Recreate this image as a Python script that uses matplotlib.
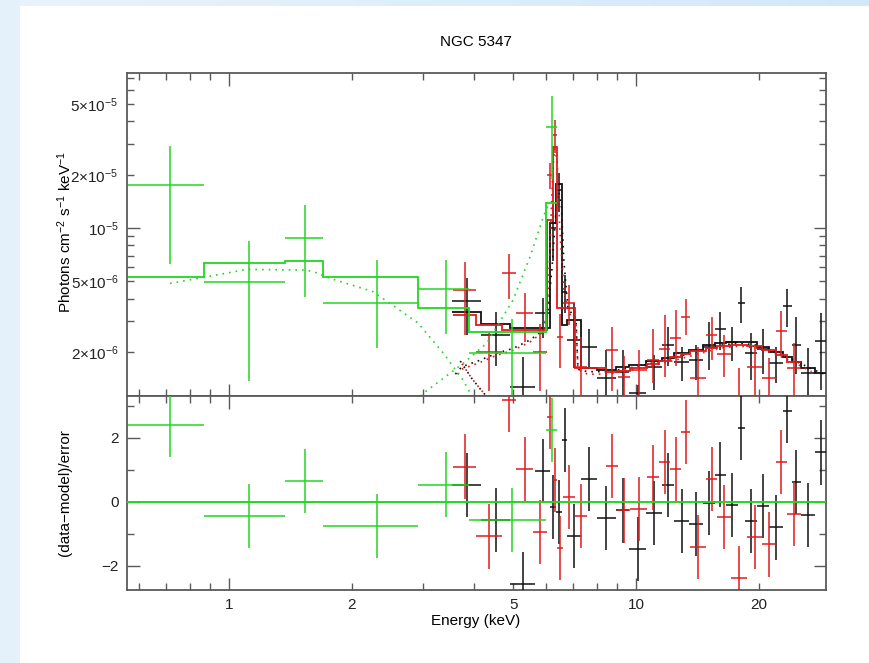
import numpy as np
import matplotlib
matplotlib.use('Agg')
import matplotlib.pyplot as plt
from matplotlib.patches import Rectangle

plt.rcParams['font.family'] = ['Liberation Sans', 'DejaVu Sans']
plt.rcParams['mathtext.fontset'] = 'custom'
plt.rcParams['mathtext.rm'] = 'Liberation Sans'
plt.rcParams['mathtext.it'] = 'Liberation Sans:italic'
plt.rcParams['font.size'] = 11

# ---- green data set (low energy) ----
g_lo = [0.565, 0.867, 1.373, 1.705, 2.917, 3.894, 6.01]
g_hi = [0.867, 1.373, 1.705, 2.917, 3.894, 6.01, 6.41]
g_flux = [1.76e-5, 4.96e-6, 8.82e-6, 3.80e-6, 4.53e-6, 1.97e-6, 3.72e-5]
g_top = [2.91e-5, 8.48e-6, 1.348e-5, 6.60e-6, 6.60e-6, 3.07e-6, 5.54e-5]
g_bot = [6.25e-6, 1.375e-6, 4.1e-6, 2.11e-6, 2.53e-6, 0.87e-6, 1.905e-5]
g_model = [5.32e-6, 6.37e-6, 6.49e-6, 5.32e-6, 3.53e-6, 2.61e-6, 1.38e-5]
g_resid = [2.41, -0.44, 0.65, -0.75, 0.54, -0.58, 2.23]

# ---- black data set ----
b_edges = [3.526, 4.161, 4.902, 5.646, 6.147, 6.36, 6.58, 6.78, 7.314, 8.008,
           8.917, 9.627, 10.56, 11.56, 12.42, 13.50, 14.61, 15.61, 16.64,
           17.78, 18.53, 19.87, 21.26, 22.94, 24.13, 25.39, 27.58, 29.30]
b_flux = [3.88e-6, 2.50e-6, 1.266e-6, 3.33e-6, 1.0e-5, 1.64e-5, 4.38e-6, 2.34e-6,
          2.14e-6, 1.42e-6, 1.55e-6, 1.18e-6, 1.64e-6, 2.19e-6, 1.75e-6, 1.80e-6,
          2.14e-6, 2.69e-6, 2.29e-6, 3.77e-6, 1.98e-6, 2.08e-6, 1.73e-6, 3.64e-6,
          2.19e-6, 1.52e-6, 2.31e-6]
b_top = [5.21e-6, 3.38e-6, 1.88e-6, 4.02e-6, 1.35e-5, 2.04e-5, 5.44e-6, 3.77e-6,
         2.69e-6, 2.05e-6, 2.05e-6, 1.30e-6, 1.93e-6, 2.78e-6, 2.13e-6, 2.19e-6,
         2.97e-6, 3.38e-6, 2.78e-6, 4.67e-6, 2.55e-6, 2.70e-6, 2.14e-6, 4.51e-6,
         3.14e-6, 2.10e-6, 3.31e-6]
b_bot = [2.50e-6, 1.66e-6, 0.65e-6, 2.39e-6, 6.5e-6, 1.24e-5, 3.32e-6, 1.62e-6,
         1.62e-6, 0.79e-6, 1.05e-6, 0.85e-6, 1.22e-6, 1.66e-6, 1.37e-6, 1.39e-6,
         1.58e-6, 2.05e-6, 1.77e-6, 2.90e-6, 1.40e-6, 1.50e-6, 1.33e-6, 2.78e-6,
         1.50e-6, 1.15e-6, 1.22e-6]
b_model = [3.35e-6, 2.88e-6, 2.72e-6, 2.72e-6, 1.063e-5, 1.77e-5, 2.84e-6, 3.03e-6,
           1.62e-6, 1.58e-6, 1.64e-6, 1.69e-6, 1.77e-6, 1.85e-6, 1.97e-6, 2.05e-6,
           2.19e-6, 2.25e-6, 2.29e-6, 2.29e-6, 2.27e-6, 2.14e-6, 2.01e-6, 1.87e-6,
           1.76e-6, 1.62e-6, 1.52e-6]
b_resid = [0.53, -0.56, -2.57, 0.97, -0.17, -0.33, 1.94, -1.06, 0.71, -0.51, -0.27,
           -1.47, -0.35, 0.53, -0.61, -0.70, -0.04, 0.85, -0.11, 2.30, -0.59, -0.13,
           -0.80, 2.84, 0.63, -0.41, 1.54]

# ---- red data set ----
r_lo = [3.545, 4.038, 4.693, 5.073, 5.573, 6.055, 6.242, 6.396, 6.628, 7.083, 8.44,
        9.05, 9.67, 10.66, 11.41, 12.12, 12.90, 13.57, 14.86, 15.84, 17.09, 18.77,
        20.37, 22.08, 23.46]
r_hi = [4.038, 4.693, 5.073, 5.573, 6.055, 6.242, 6.396, 6.628, 7.083, 7.565, 9.05,
        9.67, 10.66, 11.41, 12.12, 12.90, 13.57, 14.86, 15.84, 17.09, 18.77, 20.37,
        22.08, 23.46, 25.39]
r_flux = [4.47e-6, 1.995e-6, 5.56e-6, 3.31e-6, 2.01e-6, 2.0e-5, 3.34e-5, 2.44e-6,
          3.77e-6, 1.64e-6, 2.05e-6, 1.45e-6, 1.58e-6, 1.80e-6, 2.07e-6, 2.39e-6,
          3.16e-6, 1.42e-6, 2.50e-6, 1.95e-6, 1.05e-6, 1.64e-6, 1.43e-6, 2.63e-6, 1.63e-6]
r_top = [6.46e-6, 2.55e-6, 7.14e-6, 4.29e-6, 2.88e-6, 2.33e-5, 4.06e-5, 3.26e-6,
         4.77e-6, 2.44e-6, 2.78e-6, 1.9e-6, 2.05e-6, 2.69e-6, 3.24e-6, 3.45e-6,
         3.96e-6, 2.14e-6, 3.16e-6, 2.50e-6, 1.62e-6, 2.14e-6, 1.85e-6, 3.41e-6, 2.24e-6]
r_bot = [2.50e-6, 1.2e-6, 3.96e-6, 2.29e-6, 1.20e-6, 1.67e-5, 2.64e-5, 1.62e-6,
         2.84e-6, 0.95e-6, 1.2e-6, 1.0e-6, 1.1e-6, 1.33e-6, 1.45e-6, 1.66e-6,
         2.50e-6, 0.9e-6, 1.80e-6, 1.45e-6, 0.5e-6, 1.14e-6, 1.0e-6, 1.93e-6, 1.1e-6]
r_model = [3.24e-6, 2.83e-6, 2.66e-6, 2.66e-6, 2.66e-6, 1.11e-5, 2.87e-5, 3.55e-6,
           3.55e-6, 1.62e-6, 1.55e-6, 1.57e-6, 1.62e-6, 1.71e-6, 1.78e-6, 1.88e-6,
           1.95e-6, 2.03e-6, 2.11e-6, 2.17e-6, 2.19e-6, 2.17e-6, 2.05e-6, 1.93e-6, 1.76e-6]
r_resid = [1.10, -1.08, 3.19, 1.02, -0.95, 2.65, 0.67, -1.43, 0.15, -0.44, 1.12, -0.27,
           -0.22, 0.76, 1.23, 1.02, 2.18, -1.41, 0.71, -0.47, -2.39, -1.10, -1.33, 1.24, -0.39]

# ---- model components (dotted) ----
g_soft_e = [0.716, 0.849, 1.105, 1.552, 1.64, 1.771, 2.259, 2.913, 3.357, 3.758, 4.02]
g_soft = [4.88e-6, 5.23e-6, 5.85e-6, 5.80e-6, 5.6e-6, 5.21e-6, 4.38e-6, 2.92e-6,
          1.98e-6, 1.39e-6, 1.05e-6]
g_refl_e = [2.8, 3.002, 3.765, 4.297, 4.987, 5.49, 5.92, 6.08]
g_refl = [1.0e-6, 1.17e-6, 1.73e-6, 2.24e-6, 3.93e-6, 6.89e-6, 1.158e-5, 1.35e-5]

nu_soft_e = [3.70, 3.80, 3.95, 4.14, 4.30, 4.45]
nu_soft = [1.78e-6, 1.62e-6, 1.42e-6, 1.24e-6, 1.12e-6, 1.0e-6]

b_refl_e = [3.6, 3.73, 4.14, 4.55, 5.0, 5.49, 5.92, 6.08, 6.22, 6.35, 6.45, 6.55, 6.65,
            6.8, 7.0, 7.12, 7.2, 7.6, 8.5, 10, 12, 14, 16, 18, 20, 22, 25, 28, 29.5]
b_refl = [1.5e-6, 1.65e-6, 1.80e-6, 1.97e-6, 2.10e-6, 2.34e-6, 2.66e-6, 3.45e-6, 6.0e-6,
          1.2e-5, 1.6e-5, 1.4e-5, 6.5e-6, 3.6e-6, 3.2e-6, 3.1e-6, 1.6e-6, 1.55e-6,
          1.55e-6, 1.65e-6, 1.82e-6, 2.0e-6, 2.18e-6, 2.25e-6, 2.18e-6, 2.0e-6, 1.75e-6,
          1.55e-6, 1.48e-6]
r_refl_e = [3.6, 3.73, 4.14, 4.55, 5.0, 5.49, 5.92, 6.05, 6.15, 6.25, 6.31, 6.40, 6.5,
            6.65, 6.85, 7.05, 7.12, 7.2, 7.6, 8.5, 10, 12, 14, 16, 18, 20, 22, 25, 27]
r_refl = [1.45e-6, 1.6e-6, 1.75e-6, 1.92e-6, 2.05e-6, 2.28e-6, 2.6e-6, 3.4e-6, 8e-6,
          2.2e-5, 2.8e-5, 2.4e-5, 9.7e-6, 4.5e-6, 3.3e-6, 3.1e-6, 3.0e-6, 1.6e-6, 1.5e-6,
          1.5e-6, 1.6e-6, 1.76e-6, 1.93e-6, 2.1e-6, 2.16e-6, 2.1e-6, 1.95e-6, 1.7e-6, 1.55e-6]

# ---- ticks ----
x_major = [1, 10]
x_minor = [0.6, 0.7, 0.8, 0.9, 2, 3, 4, 5, 6, 7, 8, 9, 20]
x_minor_labels = ['', '', '', '', '2', '', '', '5', '', '', '', '', '20']
y1_major = [1e-5]
y1_minor = [2e-6, 3e-6, 4e-6, 5e-6, 6e-6, 7e-6, 8e-6, 9e-6, 2e-5, 3e-5, 4e-5, 5e-5, 6e-5, 7e-5]
y1_minor_labels = ['2×10$^{-6}$', '', '', '5×10$^{-6}$', '', '', '', '',
                   '2×10$^{-5}$', '', '', '5×10$^{-5}$', '', '']
y2_major = [-2, 0, 2]
y2_minor = [-1, 1, 3]

GREEN = '#22d622'
RED = '#e01b1b'
BLACK = '#111111'
AXC = '#5a5a5a'

fig = plt.figure(figsize=(8.69, 6.63), dpi=100)
# light blue page border
fig.patches.append(Rectangle((0, 0), 20 / 869, 1, transform=fig.transFigure,
                             facecolor='#e4f1fb', edgecolor='none', zorder=-5))
band = fig.add_axes([0, 1 - 6 / 663, 1, 6 / 663], zorder=-5)
grad = np.linspace(0, 1, 256)[None, :]
band.imshow(grad, aspect='auto', cmap=matplotlib.colors.LinearSegmentedColormap.from_list(
    'b', ['#e8f4fd', '#d2e8f9']))
band.axis('off')

ax1 = fig.add_axes([127 / 869, 1 - 396 / 663, 699 / 869, 323 / 663])
ax2 = fig.add_axes([127 / 869, 1 - 590 / 663, 699 / 869, 194 / 663], sharex=ax1)


def draw_set(lo, hi, flux, bot, top, model, resid, color, z):
    lo = np.asarray(lo); hi = np.asarray(hi)
    flux = np.asarray(flux)
    mid = (lo + hi) / 2
    xerr = [mid - lo, hi - mid]
    yerr = [flux - np.asarray(bot), np.asarray(top) - flux]
    ax1.errorbar(mid, flux, xerr=xerr, yerr=yerr, fmt='none', ecolor=color,
                 elinewidth=1.1, zorder=z)
    ax1.stairs(model, np.r_[lo, hi[-1]], baseline=None, color=color, lw=1.3, zorder=z)
    ax2.errorbar(mid, resid, xerr=xerr, yerr=1.0, fmt='none', ecolor=color,
                 elinewidth=1.1, zorder=z)


draw_set(b_edges[:-1], b_edges[1:], b_flux, b_bot, b_top, b_model, b_resid, BLACK, 3)
draw_set(r_lo, r_hi, r_flux, r_bot, r_top, r_model, r_resid, RED, 4)
draw_set(g_lo, g_hi, g_flux, g_bot, g_top, g_model, g_resid, GREEN, 5)

dots = (0, (1, 3))
ax1.plot(nu_soft_e, nu_soft, color=BLACK, lw=1.2, ls=dots, zorder=3)
ax1.plot(nu_soft_e, nu_soft, color=RED, lw=1.2, ls=(2, (1, 3)), zorder=3)
ax1.plot(b_refl_e, b_refl, color=BLACK, lw=1.2, ls=dots, zorder=3)
ax1.plot(r_refl_e, r_refl, color=RED, lw=1.2, ls=(2, (1, 3)), zorder=4)
ax1.plot(g_soft_e, g_soft, color=GREEN, lw=1.2, ls=dots, zorder=5)
ax1.plot(g_refl_e, g_refl, color=GREEN, lw=1.2, ls=dots, zorder=5)

ax2.axhline(0, color=GREEN, lw=1.4, zorder=6)

ax1.set_xscale('log')
ax1.set_yscale('log')
ax1.set_xlim(0.5615, 29.3)
ax1.set_ylim(1.13e-6, 7.5e-5)
ax2.set_ylim(-2.75, 3.3)

ax1.set_xticks(x_major)
ax1.set_xticks(x_minor, minor=True)
ax2.set_xticks(x_major)
ax2.set_xticklabels([str(v) for v in x_major])
ax2.set_xticks(x_minor, minor=True)
ax2.set_xticklabels(x_minor_labels, minor=True)
ax1.tick_params(which='both', labelbottom=False)

ax1.set_yticks(y1_major)
ax1.set_yticklabels(['10$^{-5}$'])
ax1.set_yticks(y1_minor, minor=True)
ax1.set_yticklabels(y1_minor_labels, minor=True)

ax2.set_yticks(y2_major)
ax2.set_yticklabels(['\u22122', '0', '2'])
ax2.set_yticks(y2_minor, minor=True)
ax2.set_yticklabels([], minor=True)

for ax in (ax1, ax2):
    ax.tick_params(which='both', direction='in', top=True, right=True,
                   color=AXC, width=1.0, labelsize=11, labelcolor='#222222', pad=6)
    ax.tick_params(which='major', length=9)
    ax.tick_params(which='minor', length=5)
    for s in ax.spines.values():
        s.set_color(AXC)
        s.set_linewidth(1.3)

fig.text(476 / 869, 1 - 42 / 663, 'NGC 5347', ha='center', va='center', fontsize=11)
fig.text(476 / 869, 1 - 621 / 663, 'Energy (keV)', ha='center', va='center', fontsize=11)
fig.text(65 / 869, 1 - 232 / 663, 'Photons cm$^{-2}$ s$^{-1}$ keV$^{-1}$', rotation=90,
         ha='center', va='center', fontsize=11)
fig.text(65 / 869, 1 - 493 / 663, '(data\u2212model)/error', rotation=90,
         ha='center', va='center', fontsize=11)

fig.savefig('out.png', dpi=100)
